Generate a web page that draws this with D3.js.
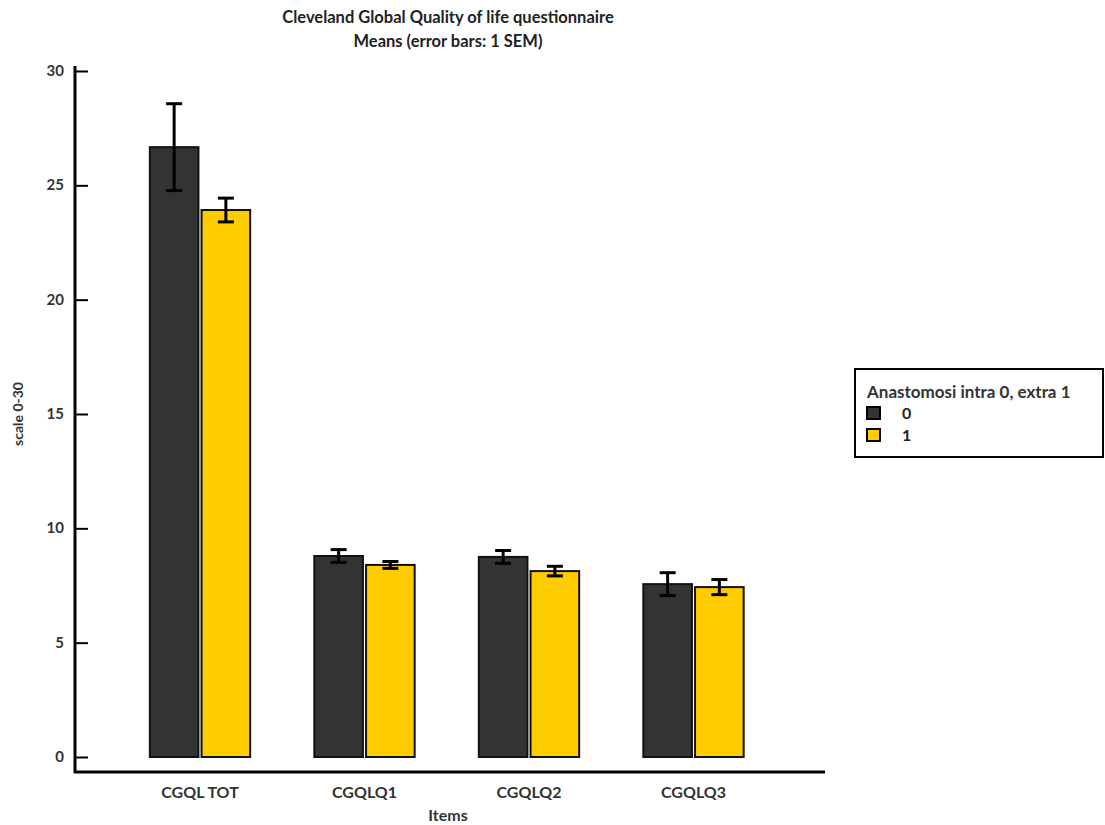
<!DOCTYPE html>
<html>
<head>
<meta charset="utf-8">
<script src="https://cdn.jsdelivr.net/npm/d3@7"></script>
<style>
body { margin: 0; background: #fff; }
text { font-family: Lato, "Open Sans", sans-serif; fill: #111; }
</style>
</head>
<body>
<svg id="chart" width="1105" height="825"></svg>
<script>
// data
var items = ["CGQL TOT", "CGQLQ1", "CGQLQ2", "CGQLQ3"];
var groups = ["0", "1"];
var means0 = [26.67, 8.79, 8.75, 7.56];
var sem0 = [1.9, 0.28, 0.28, 0.5];
var means1 = [23.92, 8.40, 8.13, 7.43];
var sem1 = [0.52, 0.15, 0.21, 0.33];
var yTicks = [0, 5, 10, 15, 20, 25, 30];
var colors = ["#333333", "#ffcc00"];

var svg = d3.select("#chart");

var x0 = d3.scaleBand()
	.domain(items)
	.range([117.75, 775.75])
	.paddingInner(0.39)
	.paddingOuter(0.195);
var x1 = d3.scaleBand()
	.domain(groups)
	.range([0, x0.bandwidth()])
	.paddingInner(0.06);
var y = d3.scaleLinear().domain([0, 30]).range([757, 71]);

var rows = [];
for (var i = 0; i < items.length; i++) {
	rows.push({item: items[i], g: "0", m: means0[i], s: sem0[i]});
	rows.push({item: items[i], g: "1", m: means1[i], s: sem1[i]});
}

// titles
svg.append("text").attr("x", 448).attr("y", 23).attr("text-anchor", "middle")
	.style("font-size", "16.5px").style("font-weight", "bold").style("fill", "#222")
	.text("Cleveland Global Quality of life questionnaire");
svg.append("text").attr("x", 448).attr("y", 47).attr("text-anchor", "middle")
	.style("font-size", "16.5px").style("font-weight", "bold").style("fill", "#222")
	.text("Means  (error bars: 1 SEM)");

// bars
svg.append("g").selectAll("rect")
	.data(rows)
	.enter().append("rect")
	.attr("x", function(d){ return x0(d.item) + x1(d.g); })
	.attr("y", function(d){ return y(d.m); })
	.attr("width", x1.bandwidth())
	.attr("height", function(d){ return y(0) - y(d.m); })
	.attr("fill", function(d){ return colors[groups.indexOf(d.g)]; })
	.attr("stroke", "#111")
	.attr("stroke-width", 2);

// error bars
var eb = svg.append("g").attr("stroke", "#000").attr("stroke-width", 3);
rows.forEach(function(d){
	var cx = x0(d.item) + x1(d.g) + x1.bandwidth() / 2;
	eb.append("line").attr("x1", cx).attr("x2", cx)
		.attr("y1", y(d.m + d.s)).attr("y2", y(d.m - d.s));
	[d.m + d.s, d.m - d.s].forEach(function(v){
		eb.append("line").attr("x1", cx - 8).attr("x2", cx + 8)
			.attr("y1", y(v)).attr("y2", y(v));
	});
});

// y axis
var yAxis = svg.append("g").attr("transform", "translate(75,0)")
	.call(d3.axisRight(y).tickValues(yTicks).tickSize(13).tickFormat(""));
yAxis.select(".domain").remove();
yAxis.selectAll(".tick line").attr("stroke", "#000").attr("stroke-width", 2);
yTicks.forEach(function(t){
	svg.append("text").attr("x", 64).attr("y", y(t) + 5).attr("text-anchor", "end")
		.style("font-size", "15px").style("font-weight", "bold").style("fill", "#333")
		.text(t);
});
svg.append("line").attr("x1", 75).attr("x2", 75).attr("y1", 66).attr("y2", 773)
	.attr("stroke", "#000").attr("stroke-width", 3);

// x axis
svg.append("line").attr("x1", 74).attr("x2", 825).attr("y1", 772).attr("y2", 772)
	.attr("stroke", "#000").attr("stroke-width", 3);
items.forEach(function(c){
	svg.append("text").attr("x", x0(c) + x0.bandwidth() / 2).attr("y", 798)
		.attr("text-anchor", "middle").style("font-size", "16px").style("font-weight", "bold")
		.style("fill", "#333")
		.text(c);
});

// axis titles
svg.append("text").attr("x", 448).attr("y", 821).attr("text-anchor", "middle")
	.style("font-size", "16px").style("font-weight", "bold").style("fill", "#333").text("Items");
svg.append("text").attr("transform", "translate(23,414) rotate(-90)").attr("text-anchor", "middle")
	.style("font-size", "14px").style("font-weight", "bold").style("fill", "#333").text("scale 0-30");

// legend
var lg = svg.append("g");
lg.append("rect").attr("x", 855).attr("y", 369).attr("width", 248).attr("height", 88)
	.attr("fill", "#fff").attr("stroke", "#000").attr("stroke-width", 2);
lg.append("text").attr("x", 867).attr("y", 398)
	.style("font-size", "17px").style("font-weight", "bold").style("fill", "#333")
	.text("Anastomosi intra 0, extra 1");
groups.forEach(function(g, i){
	lg.append("rect").attr("x", 867).attr("y", 407 + i * 22).attr("width", 13).attr("height", 12)
		.attr("fill", colors[i]).attr("stroke", "#000").attr("stroke-width", 2);
	lg.append("text").attr("x", 902).attr("y", 419 + i * 22)
		.style("font-size", "16px").style("font-weight", "bold").style("fill", "#222")
		.text(g);
});
</script>
</body>
</html>
